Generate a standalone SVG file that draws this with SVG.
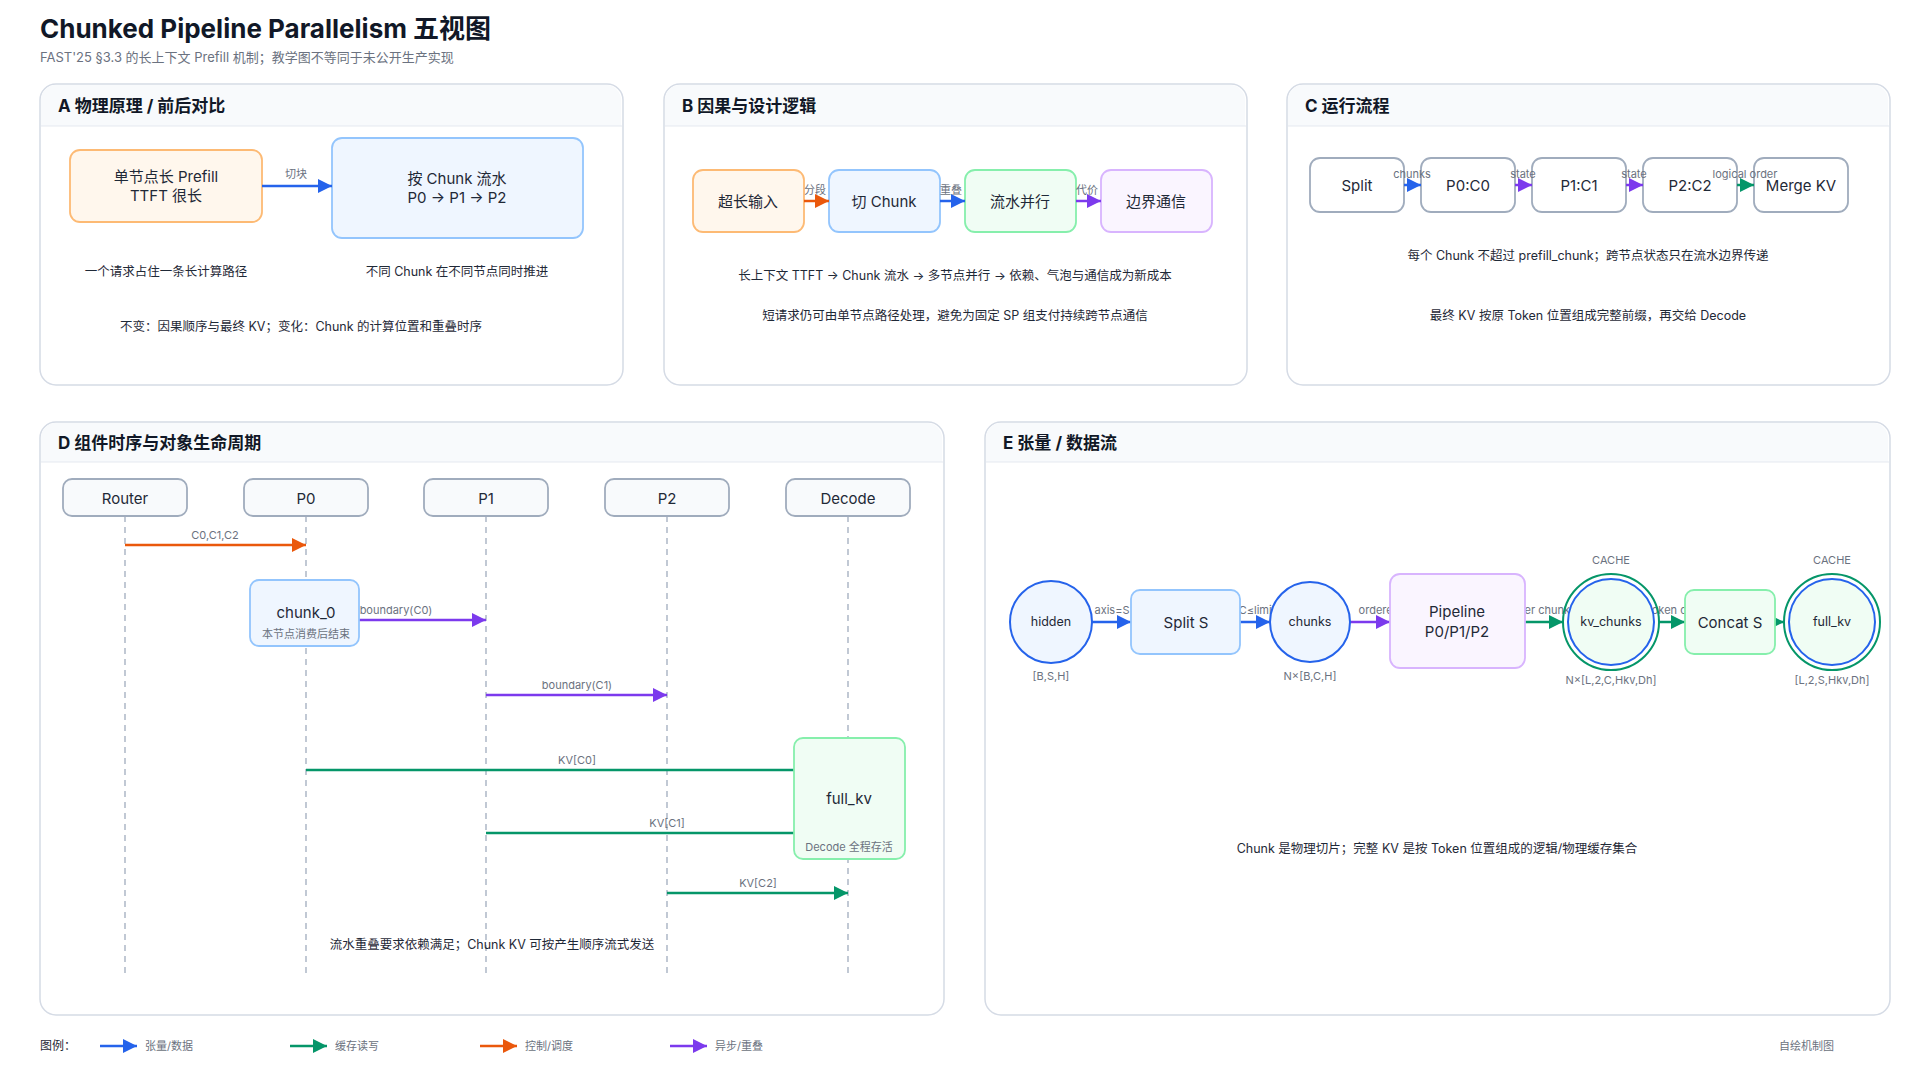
<svg xmlns="http://www.w3.org/2000/svg" width="1920" height="1080" viewBox="0 0 1920 1080">
<style>
text{font-family:"Inter","Liberation Sans","Noto Sans CJK SC",sans-serif;fill:#1f2937}
.pt{font-size:17px;font-weight:bold;fill:#111827}
.panel{fill:#fff;stroke:#d5dbe5;stroke-width:1.5}
.hdr{fill:#f8fafc}
.b{font-size:15px;text-anchor:middle}
.n{font-size:12.5px;text-anchor:middle;fill:#1f2937}
.el{font-size:11px;text-anchor:middle;fill:#6b7280}
.sm{font-size:11px;text-anchor:middle;fill:#6b7280}
.or{fill:#fff7ed;stroke:#fdba74;stroke-width:1.8}
.bl{fill:#eff6ff;stroke:#93c5fd;stroke-width:1.8}
.gr{fill:#f0fdf4;stroke:#86efac;stroke-width:1.8}
.pu{fill:#faf5ff;stroke:#d8b4fe;stroke-width:1.8}
.gy{fill:#fff;stroke:#a0acbd;stroke-width:1.8}
.act{fill:#f8fafc;stroke:#a0acbd;stroke-width:1.8}
.life{stroke:#a0acbd;stroke-width:1.3;stroke-dasharray:6 5}
.cB{stroke:#2563eb;stroke-width:2.5;fill:none}
.cG{stroke:#059669;stroke-width:2.5;fill:none}
.cO{stroke:#ea580c;stroke-width:2.5;fill:none}
.cP{stroke:#7c3aed;stroke-width:2.5;fill:none}
.circ{fill:#eff6ff;stroke:#2563eb;stroke-width:2}
</style>
<defs>
<marker id="aB" viewBox="0 0 10 10" refX="10" refY="5" markerWidth="16" markerHeight="14" markerUnits="userSpaceOnUse" orient="auto"><path d="M0,0L10,5L0,10z" fill="#2563eb"/></marker>
<marker id="aG" viewBox="0 0 10 10" refX="10" refY="5" markerWidth="16" markerHeight="14" markerUnits="userSpaceOnUse" orient="auto"><path d="M0,0L10,5L0,10z" fill="#059669"/></marker>
<marker id="aO" viewBox="0 0 10 10" refX="10" refY="5" markerWidth="16" markerHeight="14" markerUnits="userSpaceOnUse" orient="auto"><path d="M0,0L10,5L0,10z" fill="#ea580c"/></marker>
<marker id="aP" viewBox="0 0 10 10" refX="10" refY="5" markerWidth="16" markerHeight="14" markerUnits="userSpaceOnUse" orient="auto"><path d="M0,0L10,5L0,10z" fill="#7c3aed"/></marker>
</defs>
<rect width="1920" height="1080" fill="#fff"/>
<text x="40" y="38" style="font-size:26px;font-weight:bold;fill:#111827">Chunked Pipeline Parallelism 五视图</text>
<text x="40" y="62" style="font-size:13px;fill:#6b7280">FAST'25 §3.3 的长上下文 Prefill 机制；教学图不等同于未公开生产实现</text>

<!-- panels -->
<g id="panelA"><rect class="panel" x="40" y="84" width="583" height="301" rx="16"/><path class="hdr" d="M41,126V100a15,15 0 0 1 15,-15H606a15,15 0 0 1 15,15V126z"/><line x1="41" y1="126" x2="622" y2="126" stroke="#e5e9f0"/><text class="pt" x="58" y="112">A 物理原理 / 前后对比</text></g>
<g id="panelB"><rect class="panel" x="664" y="84" width="583" height="301" rx="16"/><path class="hdr" d="M665,126V100a15,15 0 0 1 15,-15H1230a15,15 0 0 1 15,15V126z"/><line x1="665" y1="126" x2="1246" y2="126" stroke="#e5e9f0"/><text class="pt" x="682" y="112">B 因果与设计逻辑</text></g>
<g id="panelC"><rect class="panel" x="1287" y="84" width="603" height="301" rx="16"/><path class="hdr" d="M1288,126V100a15,15 0 0 1 15,-15H1873a15,15 0 0 1 15,15V126z"/><line x1="1288" y1="126" x2="1889" y2="126" stroke="#e5e9f0"/><text class="pt" x="1305" y="112">C 运行流程</text></g>
<g id="panelD"><rect class="panel" x="40" y="422" width="904" height="593" rx="16"/><path class="hdr" d="M41,462V438a15,15 0 0 1 15,-15H927a15,15 0 0 1 15,15V462z"/><line x1="41" y1="462" x2="943" y2="462" stroke="#e5e9f0"/><text class="pt" x="58" y="449">D 组件时序与对象生命周期</text></g>
<g id="panelE"><rect class="panel" x="985" y="422" width="905" height="593" rx="16"/><path class="hdr" d="M986,462V438a15,15 0 0 1 15,-15H1873a15,15 0 0 1 15,15V462z"/><line x1="986" y1="462" x2="1889" y2="462" stroke="#e5e9f0"/><text class="pt" x="1003" y="449">E 张量 / 数据流</text></g>

<!-- A nodes -->
<g id="a1"><rect class="or" x="70" y="150" width="192" height="72" rx="10"/><text class="b" x="166" y="182">单节点长 Prefill</text><text class="b" x="166" y="201">TTFT 很长</text></g>
<g id="a2"><rect class="bl" x="332" y="138" width="251" height="100" rx="10"/><text class="b" x="457" y="184">按 Chunk 流水</text><text class="b" x="457" y="203">P0 → P1 → P2</text></g>
<text class="n" x="166" y="276">一个请求占住一条长计算路径</text>
<text class="n" x="457" y="276">不同 Chunk 在不同节点同时推进</text>
<text class="n" x="301" y="331">不变：因果顺序与最终 KV；变化：Chunk 的计算位置和重叠时序</text>

<!-- B nodes -->
<g id="b1"><rect class="or" x="693" y="170" width="111" height="62" rx="10"/><text class="b" x="748" y="207">超长输入</text></g>
<g id="b2"><rect class="bl" x="829" y="170" width="111" height="62" rx="10"/><text class="b" x="884" y="207">切 Chunk</text></g>
<g id="b3"><rect class="gr" x="965" y="170" width="111" height="62" rx="10"/><text class="b" x="1020" y="207">流水并行</text></g>
<g id="b4"><rect class="pu" x="1101" y="170" width="111" height="62" rx="10"/><text class="b" x="1156" y="207">边界通信</text></g>
<text class="n" x="955" y="280">长上下文 TTFT → Chunk 流水 → 多节点并行 → 依赖、气泡与通信成为新成本</text>
<text class="n" x="955" y="320">短请求仍可由单节点路径处理，避免为固定 SP 组支付持续跨节点通信</text>

<!-- C nodes -->
<g id="c1"><rect class="gy" x="1310" y="158" width="94" height="54" rx="10"/><text class="b" x="1357" y="191">Split</text></g>
<g id="c2"><rect class="gy" x="1421" y="158" width="94" height="54" rx="10"/><text class="b" x="1468" y="191">P0:C0</text></g>
<g id="c3"><rect class="gy" x="1532" y="158" width="94" height="54" rx="10"/><text class="b" x="1579" y="191">P1:C1</text></g>
<g id="c4"><rect class="gy" x="1643" y="158" width="94" height="54" rx="10"/><text class="b" x="1690" y="191">P2:C2</text></g>
<g id="c5"><rect class="gy" x="1754" y="158" width="94" height="54" rx="10"/><text class="b" x="1801" y="191">Merge KV</text></g>
<text class="n" x="1588" y="260">每个 Chunk 不超过 prefill_chunk；跨节点状态只在流水边界传递</text>
<text class="n" x="1588" y="320">最终 KV 按原 Token 位置组成完整前缀，再交给 Decode</text>

<!-- D actors -->
<g id="dRouter"><rect class="act" x="63" y="479" width="124" height="37" rx="9"/><text class="b" x="125" y="504">Router</text></g>
<g id="dP0"><rect class="act" x="244" y="479" width="124" height="37" rx="9"/><text class="b" x="306" y="504">P0</text></g>
<g id="dP1"><rect class="act" x="424" y="479" width="124" height="37" rx="9"/><text class="b" x="486" y="504">P1</text></g>
<g id="dP2"><rect class="act" x="605" y="479" width="124" height="37" rx="9"/><text class="b" x="667" y="504">P2</text></g>
<g id="dDecode"><rect class="act" x="786" y="479" width="124" height="37" rx="9"/><text class="b" x="848" y="504">Decode</text></g>
<g id="lifelines">
<line class="life" x1="125" y1="516" x2="125" y2="975"/>
<line class="life" x1="306" y1="516" x2="306" y2="975"/>
<line class="life" x1="486" y1="516" x2="486" y2="975"/>
<line class="life" x1="667" y1="516" x2="667" y2="975"/>
<line class="life" x1="848" y1="516" x2="848" y2="975"/>
</g>

<!-- connectors -->
<g id="connectors">
<line class="cB" x1="262" y1="186" x2="332" y2="186" marker-end="url(#aB)"/>
<text class="el" x="296" y="178">切块</text>

<line class="cO" x1="804" y1="201" x2="829" y2="201" marker-end="url(#aO)"/>
<text class="el" x="815" y="194">分段</text>
<line class="cB" x1="940" y1="201" x2="965" y2="201" marker-end="url(#aB)"/>
<text class="el" x="951" y="194">重叠</text>
<line class="cP" x1="1076" y1="201" x2="1101" y2="201" marker-end="url(#aP)"/>
<text class="el" x="1087" y="194">代价</text>

<line class="cB" x1="1404" y1="185" x2="1421" y2="185" marker-end="url(#aB)"/>
<text class="el" x="1412" y="178">chunks</text>
<line class="cP" x1="1515" y1="185" x2="1532" y2="185" marker-end="url(#aP)"/>
<text class="el" x="1523" y="178">state</text>
<line class="cP" x1="1626" y1="185" x2="1643" y2="185" marker-end="url(#aP)"/>
<text class="el" x="1634" y="178">state</text>
<line class="cG" x1="1737" y1="185" x2="1754" y2="185" marker-end="url(#aG)"/>
<text class="el" x="1745" y="178">logical order</text>

<line class="cO" x1="125" y1="545" x2="306" y2="545" marker-end="url(#aO)"/>
<text class="el" x="215" y="539">C0,C1,C2</text>
<line class="cP" x1="359" y1="620" x2="486" y2="620" marker-end="url(#aP)"/>
<text class="el" x="396" y="614">boundary(C0)</text>
<line class="cP" x1="486" y1="695" x2="667" y2="695" marker-end="url(#aP)"/>
<text class="el" x="577" y="689">boundary(C1)</text>
<line class="cG" x1="306" y1="770" x2="794" y2="770"/>
<text class="el" x="577" y="764">KV[C0]</text>
<line class="cG" x1="486" y1="833" x2="794" y2="833"/>
<text class="el" x="667" y="827">KV[C1]</text>
<line class="cG" x1="667" y1="893" x2="848" y2="893" marker-end="url(#aG)"/>
<text class="el" x="758" y="887">KV[C2]</text>

<line class="cB" x1="1092" y1="622" x2="1131" y2="622" marker-end="url(#aB)"/>
<text class="el" x="1112" y="614">axis=S</text>
<line class="cB" x1="1240" y1="622" x2="1270" y2="622" marker-end="url(#aB)"/>
<text class="el" x="1257" y="614">C≤limit</text>
<line class="cP" x1="1350" y1="622" x2="1390" y2="622" marker-end="url(#aP)"/>
<text class="el" x="1379" y="614">ordered</text>
<line class="cG" x1="1525" y1="622" x2="1563" y2="622" marker-end="url(#aG)"/>
<text class="el" x="1555" y="614">per chunk K/V</text>
<line class="cG" x1="1658" y1="622" x2="1685" y2="622" marker-end="url(#aG)"/>
<text class="el" x="1682" y="614">token offsets</text>
<line class="cG" x1="1775" y1="622" x2="1784" y2="622" marker-end="url(#aG)"/>
</g>

<g id="chunk0"><rect class="bl" x="250" y="580" width="109" height="66" rx="9"/><text class="b" x="306" y="618">chunk_0</text><text class="sm" x="306" y="638">本节点消费后结束</text></g>
<g id="fullkvD"><rect class="gr" x="794" y="738" width="111" height="121" rx="9"/><text class="b" x="849" y="804">full_kv</text><text class="sm" x="849" y="851">Decode 全程存活</text></g>
<text class="n" x="492" y="949">流水重叠要求依赖满足；Chunk KV 可按产生顺序流式发送</text>

<!-- E nodes -->
<g id="eHidden"><circle class="circ" cx="1051" cy="622" r="41"/><text class="n" x="1051" y="626">hidden</text><text class="sm" x="1051" y="680">[B,S,H]</text></g>
<g id="eSplit"><rect class="bl" x="1131" y="590" width="109" height="64" rx="9"/><text class="b" x="1186" y="628">Split S</text></g>
<g id="eChunks"><circle class="circ" cx="1310" cy="622" r="40"/><text class="n" x="1310" y="626">chunks</text><text class="sm" x="1310" y="680">N×[B,C,H]</text></g>
<g id="ePipe"><rect class="pu" x="1390" y="574" width="135" height="94" rx="10"/><text class="b" x="1457" y="617">Pipeline</text><text class="b" x="1457" y="637">P0/P1/P2</text></g>
<g id="eKv"><circle cx="1611" cy="622" r="48" fill="none" stroke="#059669" stroke-width="2"/><circle cx="1611" cy="622" r="43" fill="#f0fdf4" stroke="#2563eb" stroke-width="2"/><text class="n" x="1611" y="626">kv_chunks</text><text class="sm" x="1611" y="564">CACHE</text><text class="sm" x="1611" y="684">N×[L,2,C,Hkv,Dh]</text></g>
<g id="eConcat"><rect class="gr" x="1685" y="590" width="90" height="64" rx="9"/><text class="b" x="1730" y="628">Concat S</text></g>
<g id="eFull"><circle cx="1832" cy="622" r="48" fill="none" stroke="#059669" stroke-width="2"/><circle cx="1832" cy="622" r="43" fill="#f0fdf4" stroke="#2563eb" stroke-width="2"/><text class="n" x="1832" y="626">full_kv</text><text class="sm" x="1832" y="564">CACHE</text><text class="sm" x="1832" y="684">[L,2,S,Hkv,Dh]</text></g>
<text class="n" x="1437" y="853">Chunk 是物理切片；完整 KV 是按 Token 位置组成的逻辑/物理缓存集合</text>

<!-- legend -->
<g id="legend">
<text x="40" y="1050" style="font-size:12px;fill:#1f2937">图例：</text>
<line class="cB" x1="100" y1="1046" x2="137" y2="1046" marker-end="url(#aB)"/><text x="145" y="1050" style="font-size:11px;fill:#6b7280">张量/数据</text>
<line class="cG" x1="290" y1="1046" x2="327" y2="1046" marker-end="url(#aG)"/><text x="335" y="1050" style="font-size:11px;fill:#6b7280">缓存读写</text>
<line class="cO" x1="480" y1="1046" x2="517" y2="1046" marker-end="url(#aO)"/><text x="525" y="1050" style="font-size:11px;fill:#6b7280">控制/调度</text>
<line class="cP" x1="670" y1="1046" x2="707" y2="1046" marker-end="url(#aP)"/><text x="715" y="1050" style="font-size:11px;fill:#6b7280">异步/重叠</text>
<text x="1779" y="1050" style="font-size:11px;fill:#6b7280">自绘机制图</text>
</g>
</svg>
